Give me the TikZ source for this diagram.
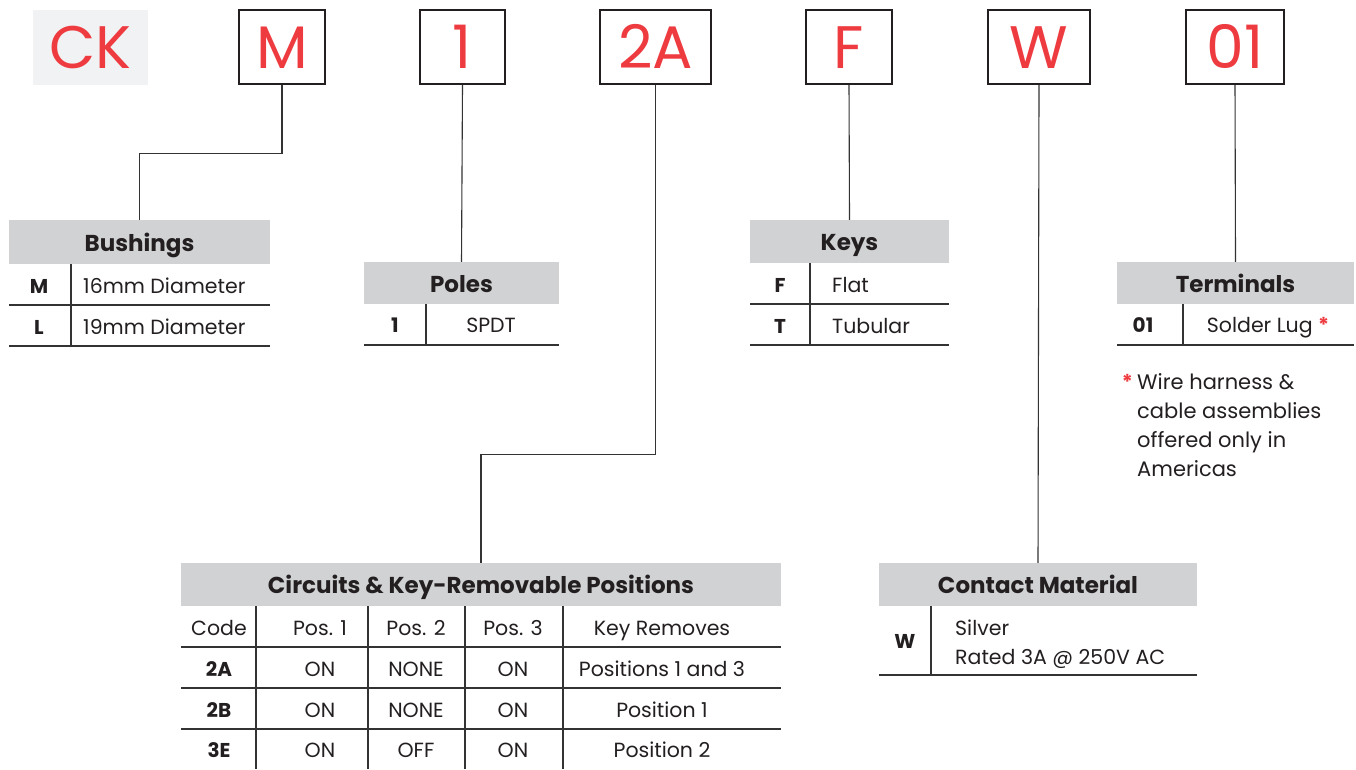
\documentclass[tikz,border=0pt]{standalone}
\usepackage{fontspec}
\setmainfont{Poppins}
\definecolor{ckred}{HTML}{EE3B40}
\definecolor{ckbg}{HTML}{F1F2F4}
\definecolor{hdr}{HTML}{D1D2D4}
\definecolor{ink}{HTML}{231F20}
\definecolor{rule}{HTML}{333333}
\begin{document}
\begin{tikzpicture}[x=1pt,y=-1pt,
  codebox/.style={draw=ink, line width=2.2pt, minimum height=74pt, inner sep=0pt,
    text=ckred, font=\fontsize{60}{60}\selectfont, text height=42pt, text depth=0pt},
  hdrbox/.style={fill=hdr, inner sep=0pt, text=ink, font=\fontsize{23}{23}\selectfont\bfseries,
    text height=19pt, text depth=1pt},
  conn/.style={draw=rule, line width=1.1pt},
  tline/.style={draw=rule, line width=1.4pt},
  lbl/.style={inner sep=0pt, text=ink, font=\fontsize{20.5}{20.5}\selectfont,
    text height=15pt, text depth=0pt},
  blbl/.style={inner sep=0pt, text=ink, font=\fontsize{20}{20}\selectfont\bfseries,
    text height=15pt, text depth=0pt}]
\useasboundingbox (0,0) rectangle (1356,769);
% top code boxes
\node[fill=ckbg, minimum width=115pt, minimum height=75pt, inner sep=0pt, text=ckred,
  font=\fontsize{60}{60}\selectfont, text height=42pt, text depth=0pt] (bCK) at (90.5,47.5) {CK};
\node[codebox, minimum width=86pt] (bM) at (282,47) {M};
\node[codebox, minimum width=85pt] (b1) at (462.5,47) {1};
\node[codebox, minimum width=111pt] (b2A) at (655.5,47) {2A};
\node[codebox, minimum width=86pt] (bF) at (849,47) {F};
\node[codebox, minimum width=102pt] (bW) at (1039,47) {W};
\node[codebox, minimum width=98pt] (b01) at (1235,47) {01};
% headers
\node[hdrbox, minimum width=261pt, minimum height=44pt] (hBush) at (139.5,242) {Bushings};
\node[hdrbox, minimum width=195pt, minimum height=42pt] (hPole) at (461.5,283) {Poles};
\node[hdrbox, minimum width=199pt, minimum height=43pt] (hKeys) at (849.5,241.5) {Keys};
\node[hdrbox, minimum width=237pt, minimum height=42pt] (hTerm) at (1235.5,283) {Terminals};
\node[hdrbox, minimum width=600pt, minimum height=43pt] (hCirc) at (481,584.5) {Circuits \& Key-Removable Positions};
\node[hdrbox, minimum width=318pt, minimum height=43pt] (hCont) at (1038,584.5) {Contact Material};
% connectors
\draw[conn] (bM.south) -- ++(0,68) -| (hBush.north);
\draw[conn] (b1.south) -- (hPole.north);
\draw[conn] (b2A.south) -- ++(0,369) -| (hCirc.north);
\draw[conn] (bF.south) -- (hKeys.north);
\draw[conn] (bW.south) -- (hCont.north);
\draw[conn] (b01.south) -- (hTerm.north);
% Bushings table
\draw[tline] (9,305) -- (270,305) (9,346) -- (270,346) (71,264) -- (71,346);
\node[blbl] at (39,285.5) {M};
\node[lbl, anchor=west] at (83,285.5) {16mm Diameter};
\node[blbl] at (39,326.5) {L};
\node[lbl, anchor=west] at (83,326.5) {19mm Diameter};
% Poles table
\draw[tline] (364,345) -- (559,345) (426,304) -- (426,345);
\node[blbl] at (395,325) {1};
\node[lbl] at (491,325) {SPDT};
% Keys table
\draw[tline] (750,304) -- (949,304) (750,345) -- (949,345) (810,263) -- (810,345);
\node[blbl] at (780,284.5) {F};
\node[lbl, anchor=west] at (832,284.5) {Flat};
\node[blbl] at (780,325.5) {T};
\node[lbl, anchor=west] at (832,325.5) {Tubular};
% Terminals table
\draw[tline] (1117,345) -- (1354,345) (1183,304) -- (1183,345);
\node[blbl] at (1143,325) {01};
\node[lbl] at (1268,325) {Solder Lug \textcolor{ckred}{\bfseries*}};
\node[lbl, anchor=base east, text height=, text depth=] at (1133,389) {\textcolor{ckred}{\bfseries*}};
\node[inner sep=0pt, text=ink, anchor=base west, align=left, font=\fontsize{21}{28.7}\selectfont] at (1137,389)
  {Wire harness \&};
\node[inner sep=0pt, text=ink, anchor=north west, align=left, font=\fontsize{21}{28.7}\selectfont] (note) at (1137,374)
  {\phantom{Wire harness \&}\\cable assemblies\\offered only in\\Americas};
% Circuits table
\draw[tline] (181,647) -- (781,647) (181,688) -- (781,688) (181,729) -- (781,729);
\draw[tline] (256,606) -- (256,769) (368,606) -- (368,769) (465,606) -- (465,769) (563,606) -- (563,769);
\node[lbl] at (219,628) {Code};
\node[lbl] at (320,628) {Pos. 1};
\node[lbl] at (416,628) {Pos. 2};
\node[lbl] at (513,628) {Pos. 3};
\node[lbl] at (662,628) {Key Removes};
\node[blbl] at (219,668.5) {2A};
\node[lbl] at (320,668.5) {ON};
\node[lbl] at (416,668.5) {NONE};
\node[lbl] at (513,668.5) {ON};
\node[lbl] at (662,668.5) {Positions 1 and 3};
\node[blbl] at (219,709.5) {2B};
\node[lbl] at (320,709.5) {ON};
\node[lbl] at (416,709.5) {NONE};
\node[lbl] at (513,709.5) {ON};
\node[lbl] at (662,709.5) {Position 1};
\node[blbl] at (219,750) {3E};
\node[lbl] at (320,750) {ON};
\node[lbl] at (416,750) {OFF};
\node[lbl] at (513,750) {ON};
\node[lbl] at (662,750) {Position 2};
% Contact table
\draw[tline] (879,675) -- (1197,675) (931,606) -- (931,675);
\node[blbl] at (905,641) {W};
\node[lbl, anchor=west] at (955,628) {Silver};
\node[lbl, anchor=west] at (955,657) {Rated 3A @ 250V AC};
\end{tikzpicture}
\end{document}
